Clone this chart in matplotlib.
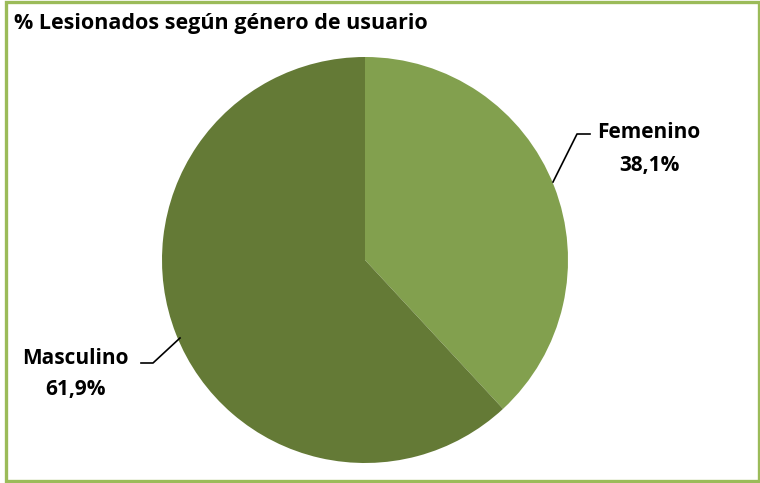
import matplotlib
matplotlib.use("Agg")
import matplotlib.pyplot as plt
from matplotlib.patches import Rectangle, Wedge

# data
labels = ["Femenino", "Masculino"]
values = [38.1, 61.9]
pct_text = ["38,1%", "61,9%"]
colors = ["#82A04E", "#647A36"]

W, H = 760, 483
fig = plt.figure(figsize=(W / 100, H / 100), dpi=100)
ax = fig.add_axes([0, 0, 1, 1])
ax.set_xlim(0, W)
ax.set_ylim(H, 0)
ax.set_aspect("equal")
ax.axis("off")

font = "Open Sans"

# pie drawn in pixel coords (y downwards), starting at 12 o'clock, clockwise
cx, cy, r = 365, 260, 203
total = sum(values)
ang = -90.0
for v, c in zip(values, colors):
    sweep = v / total * 360
    ax.add_patch(Wedge((cx, cy), r, ang, ang + sweep, facecolor=c, edgecolor="none"))
    ang += sweep

# title
ax.text(14, 23, "% Lesionados según género de usuario", fontsize=15.5,
        fontweight="bold", family=font, ha="left", va="center", color="black")

# labels
ax.text(649, 132, labels[0], fontsize=15, fontweight="bold", family=font,
        ha="center", va="center")
ax.text(649, 165, pct_text[0], fontsize=15, fontweight="bold", family=font,
        ha="center", va="center")
ax.plot([553, 577, 590], [182, 134, 134], color="black", lw=1.2)

ax.text(75, 358, labels[1], fontsize=15, fontweight="bold", family=font,
        ha="center", va="center")
ax.text(75, 390, pct_text[1], fontsize=15, fontweight="bold", family=font,
        ha="center", va="center")
ax.plot([180, 153, 141], [338, 363, 363], color="black", lw=1.2)

# border
ax.add_patch(Rectangle((5.5, 1.5), 753, 479, fill=False,
                       edgecolor="#9BBB59", lw=2.4, clip_on=False))

fig.savefig("out.png", dpi=100, facecolor="white")
